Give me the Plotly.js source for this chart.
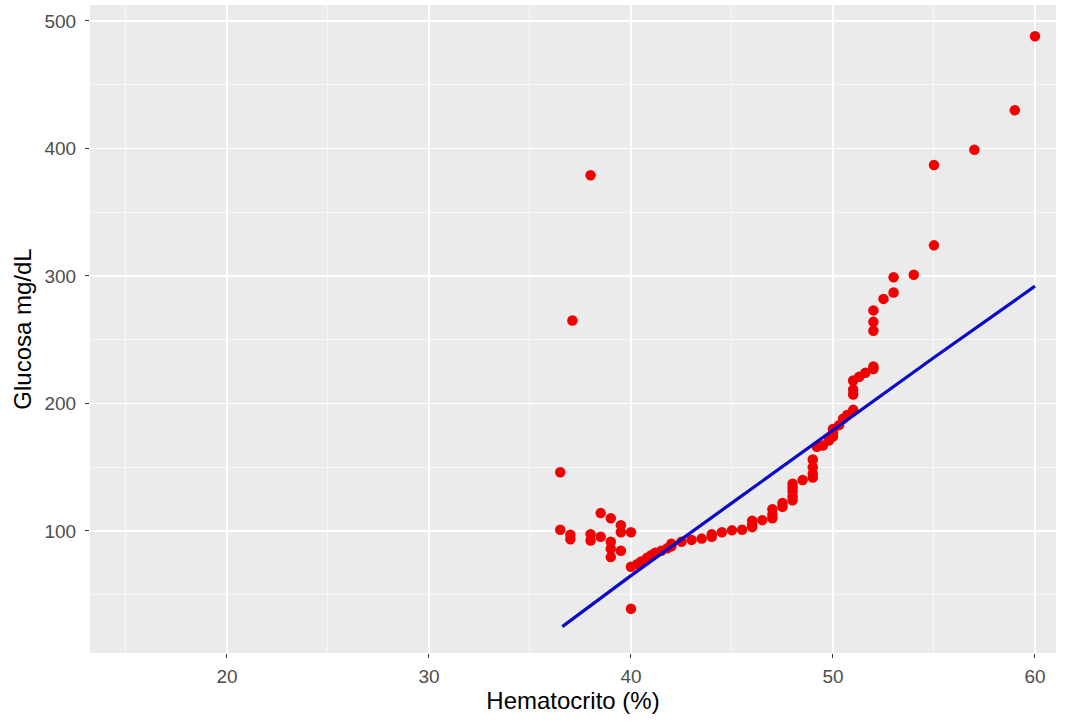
<!DOCTYPE html>
<html>
<head>
<meta charset="utf-8">
<script src="https://cdn.plot.ly/plotly-3.0.1.min.js"></script>
<style>
  html, body { margin: 0; padding: 0; background: #ffffff; }
  #chart { width: 1076px; height: 721px; }
</style>
</head>
<body>
<div id="chart"></div>
<script>
// Hematocrit (%) vs glucose (mg/dL) for each patient
const hematocrito = [
  36.5, 36.5, 37.0, 37.0, 37.1, 38.0, 38.0, 38.0, 38.5, 38.5,
  39.0, 39.0, 39.0, 39.0, 39.5, 39.5, 39.5, 40.0, 40.0, 40.0,
  40.3, 40.5, 40.8, 41.0, 41.2, 41.5, 41.8, 42.0, 42.0, 42.5,
  43.0, 43.5, 44.0, 44.0, 44.5, 45.0, 45.5, 46.0, 46.0, 46.0,
  46.5, 47.0, 47.0, 47.0, 47.5, 47.5, 48.0, 48.0, 48.0, 48.0,
  48.0, 48.5, 49.0, 49.0, 49.0, 49.0, 49.2, 49.5, 49.8, 50.0,
  50.0, 50.0, 50.3, 50.5, 50.7, 51.0, 51.0, 51.0, 51.0, 51.3,
  51.6, 52.0, 52.0, 52.0, 52.0, 52.0, 52.5, 53.0, 53.0, 54.0,
  55.0, 55.0, 57.0, 59.0, 60.0
];
const glucosa = [
  146, 101, 97, 93.5, 265, 379, 97.5, 92.5, 114, 95.5,
  110, 91.5, 86, 79.5, 104.5, 99, 84.5, 99, 72, 39,
  74, 76, 79, 81, 83, 84.5, 86.5, 88, 90, 91.5,
  93, 94, 95.5, 97.5, 99, 100.5, 101, 103, 105, 108,
  108.5, 110, 113, 117, 119, 122, 124, 127, 131, 134,
  137, 140, 142, 145, 150, 156, 166, 167, 171, 174,
  177, 180, 183, 188, 191, 195, 207, 211, 218, 221,
  224, 227, 229, 257, 264, 273, 282, 287, 299, 301,
  324, 387, 399, 430, 488
];

// Fitted trend line
const ajusteX = [36.6, 40, 45, 50, 55, 60];
const ajusteY = [25, 65, 122, 179, 236, 292];

const xTicks = [20, 30, 40, 50, 60];
const yTicks = [100, 200, 300, 400, 500];
const xMinor = [15, 25, 35, 45, 55];
const yMinor = [50, 150, 250, 350, 450];

const FONT = '"Liberation Sans", Arial, sans-serif';

const traces = [
  {
    type: 'scatter',
    mode: 'markers',
    x: hematocrito,
    y: glucosa,
    marker: { color: '#F20000', size: 10.5, line: { width: 0 } },
    hoverinfo: 'x+y'
  },
  {
    type: 'scatter',
    mode: 'lines',
    x: ajusteX,
    y: ajusteY,
    line: { color: '#0A0AC8', width: 3.2 },
    hoverinfo: 'skip'
  }
];

const axisCommon = {
  showline: false,
  zeroline: false,
  showgrid: true,
  gridcolor: '#FFFFFF',
  gridwidth: 1.3,
  ticks: 'outside',
  ticklen: 4,
  tickwidth: 1,
  tickcolor: '#333333',
  tickfont: { family: FONT, size: 19, color: '#4D4D4D' }
};

const layout = {
  width: 1076,
  height: 721,
  margin: { l: 90, r: 20, t: 5, b: 68 },
  paper_bgcolor: '#FFFFFF',
  plot_bgcolor: '#EBEBEB',
  showlegend: false,
  font: { family: FONT },
  xaxis: Object.assign({}, axisCommon, {
    range: [13.22, 61.04],
    tickvals: xTicks,
    ticktext: xTicks.map(String),
    ticklabelstandoff: 2,
    minor: { tickvals: xMinor, showgrid: true, gridcolor: '#FFFFFF', gridwidth: 0.6 },
    title: { text: 'Hematocrito (%)', font: { family: FONT, size: 24, color: '#000000' }, standoff: 5 }
  }),
  yaxis: Object.assign({}, axisCommon, {
    range: [4.3, 512.5],
    tickvals: yTicks,
    ticktext: yTicks.map(String),
    ticklabelstandoff: 5,
    minor: { tickvals: yMinor, showgrid: true, gridcolor: '#FFFFFF', gridwidth: 0.6 },
    title: { text: 'Glucosa mg/dL', font: { family: FONT, size: 24, color: '#000000' }, standoff: 6 }
  })
};

Plotly.newPlot('chart', traces, layout, { displayModeBar: false, staticPlot: true });
</script>
</body>
</html>
